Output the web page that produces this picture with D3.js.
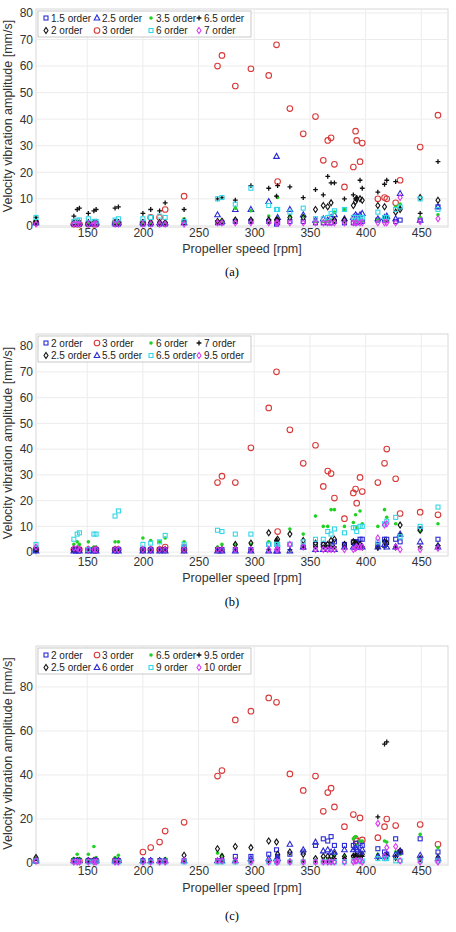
<!DOCTYPE html>
<html><head><meta charset="utf-8">
<script src="https://cdn.jsdelivr.net/npm/d3@7"></script>
<style>body{margin:0;background:#fff}svg{display:block}</style>
</head><body><div id="chart"></div>
<script>
// propeller speeds shared by all panels
const rpm = [104,138,141,143,151,156,158,175,178,200,207,215,220,237,267,271,283,297,313,320,321,332,344,355,362,366,369,372,381,389,391,392,395,397,411,417,419,427,431,449,465];
const xTicks = [150,200,250,300,350,400,450];

// panel (a)
const a15 = [1,0.5,0.5,0.5,0.5,0.5,0.5,0.5,0.5,0.5,0.5,0.5,0.5,1,1,1,1.5,1.5,1.5,0.5,1,1.5,1.5,1,1,1,1,1.5,1,1,1.5,1,1.5,1.5,2,2,2,1.5,2,2,7];
const a2 = [1.5,1,1,1,1,1,1,1,1,1,1,1,1,1.5,1.5,1.5,2,2,2,2,2,3,3,6,7.5,7,8.5,2,2,7.5,9,10,10,9.5,7.5,7,2.5,5,6,10.5,9.5];
const a25 = [1,1,1,1,1,1,1,1,1,1,1,1,1,1,4,1.5,6,6,9,26,3,6,4,2,2.5,2,3,4,2.5,3,4,3.5,4,4.5,2.5,3,3.5,2.5,12,2,7];
const a3 = [1,0.5,0.5,0.5,0.5,0.5,0.5,1,1,1,3,3,6,11,60,64,52.5,59,56.5,68,16.5,44,34.5,41,24.5,32,33,23,14.5,22,35.5,32,24,31,10,10.5,10,8.5,17,29.5,41.5];
const a35 = [2,1,1,1,1,1,1,1,1,1,1,1,1,2.5,1,2,6.5,5.5,3.5,11,10.5,3.5,3.5,1.5,1.5,1.5,2,5,6,2,1.5,1.5,2,2,2,2,2,7,8,3,4];
const a6 = [3,1.5,2,2,2.5,1.5,1.5,2,2.5,2.5,3,3.5,3,1.5,10,10.5,8,14,7.5,6,6,5,6.5,2.5,2.5,3,4.5,5.5,6,3,3,2,3,3,5,3,3,6,7,10,6];
const a65 = [3,3.5,6,6.5,4.5,5.5,6,6.5,7,4.5,6,5.5,8.5,6,10,10.5,9.5,15,14,11,15,14.5,10.5,13.5,11.5,18.5,16,16,10,11.5,10,10.5,17,14,12.5,15.5,17,16.5,6.5,4.5,24];
const a7 = [0.5,0.5,0.5,0.5,0.5,0.5,0.5,0.5,0.5,0.5,0.5,0.5,0.5,0.5,1,1,1,1,1,1,1,1,1,1,1,1,1,1,1,1,1,1,1,1,1,1,1,1,10.5,1.5,2.5];

// panel (b)
const b2 = [1,1,1,1,1,1,1,1,1,1,1,1,1,2,1,1,1,1,3,3,2,3,2,3,3,3,3,4,3,4,4,4,5,5,3,5,5,5,4,9,5];
const b25 = [1,1,1,1,1,1,1,1,1,1,1,1,1,1,1,1,3,3.5,7.5,4.5,5,7,4.5,3.5,3,3,4.5,5,3,4,3.5,3,3,2,2,4,3.5,2,10.5,8.5,2.5];
const b3 = [1,1,1,1,1,1,1,1,1,1,1,1,2,1,27,29.5,27,40.5,56,70,8,47.5,34.5,41.5,25.5,31.5,30.5,21,13,23,24.5,19,29,23.5,27,34.5,40,28.5,15,15.5,14.5];
const b55 = [0.5,0.5,0.5,0.5,0.5,0.5,0.5,0.5,0.5,0.5,0.5,0.5,0.5,0.5,0.5,0.5,0.5,0.5,0.5,0.5,0.5,0.5,2,1,1,1,1,1,2,2,2,2,2,2,2,3,2,2,7,4,2];
const b6 = [2,3,4,3,4,2,2,4,4,5.5,4.5,4,5.5,4,2,3,3,3,4,4,4,9,7,14,10,10,16.5,16.5,10,11.5,14.5,9.5,16,11,10,16.5,13.5,11,7,8,11];
const b65 = [3,5,7,7.5,1,7,7,14,16,3,3.5,4,6.5,3,8.5,8,7,7,3,3,3,3,4,5,5,8,7,9,7.5,9.5,9.5,8,10,10,4,11,12,13.5,6,10,17.5];
const b7 = [0.5,0.5,0.5,0.5,0.5,0.5,0.5,0.5,0.5,0.5,0.5,0.5,0.5,0.5,0.5,0.5,1,1,1,4.5,1,1,2,2,2,2,2,2,2,3,3,2,2,2,1.5,2,3,2,7,2,2.5];
const b95 = [2,1.5,1.5,1,1,1,1,1,1,1,1,1,1,1,1,1,1,1,1,1,1,3,2,1,1,1,1,1,1,1,1.5,2,2,2,5.5,10.5,11,2,1,1,1.5];

// panel (c)
const c2 = [1,1,1,1,1,1,1,1,1,1,1,1,1,1,1,1,3,3,4,6,3,4,5,8,11,10,12,8,8,8,9,7,9,8,6.5,5,4,11,5,11,5];
const c25 = [2.5,1,1,1,1,1,1,1,1,1,1,1,1,3.5,6.5,3,7.5,7,10,9.5,4,5,4,2,3,3,3,4,3,3,3,3,4,4,3,3,3,2.5,5.5,2,2.5];
const c3 = [1,1,1,1,1,1,1,1,1,5,7,9.5,14.5,18.5,39.5,42,65,69,75,73,null,40.5,33,39.5,23.5,32,34,25.5,16.5,22,11,10,20.5,10.5,11.5,16.5,20,17,5,17.5,8.5];
const c6 = [1,1,1,1,1,1,1,1,1,1,1,1,1,1,1,1,1,2,2,2,2,8.5,6,9.5,5.5,6,5,5,6,6,7,6,5,6,3,3,4,4,5,3.5,2];
const c65 = [2,2,4,2,4,7.5,2.5,2.5,3.5,1,1,1,2,1,4.5,3.5,1,1,1,1,1,1,1,1,2,2,2,3,3,11,12,8,10,10,4,10,9.5,5,4,13,7];
const c9 = [1,0.5,0.5,0.5,0.5,0.5,0.5,0.5,0.5,0.5,0.5,0.5,0.5,0.5,0.5,0.5,0.5,0.5,0.5,0.5,0.5,0.5,0.5,0.5,0.5,0.5,0.5,0.5,0.5,1,1,1,1,1,2,2,2,1,1,1,1];
const c95 = [2,1,1,1,1,1,1,1,1,1,1,1,1,1,1,1,1,1,1,1,1,1,1,1,1,1,1,2,2,3.5,4,3,3,3,21,54,55,3,5,1.5,2];
const c10 = [1,0.5,0.5,0.5,0.5,0.5,0.5,0.5,0.5,0.5,0.5,0.5,0.5,1,1,1,1,0.5,0.5,0.5,0.5,0.5,0.5,0.5,0.5,0.5,0.5,0.5,0.5,0.5,1,1,1,0.5,18,3,7,7.5,1,0.5,0.5];

const BLUE = "#2b2bd6", BLACK = "#111", RED = "#d83a3a", GREEN = "#22d022", CYAN = "#33d6e6", MAG = "#d83af0";
const panels = [
  { top: 9, bottom: 227, ymax: 81.5, ymin: -0.6, yt: d3.range(0, 81, 10), xl: 253, cap: "(a)", capY: 276,
    series: [
      { name: "1.5 order", v: a15, s: "square", c: BLUE }, { name: "2.5 order", v: a25, s: "triangle", c: BLUE },
      { name: "3.5 order", v: a35, s: "dot", c: GREEN }, { name: "6.5 order", v: a65, s: "plus", c: BLACK },
      { name: "2 order", v: a2, s: "diamond", c: BLACK }, { name: "3 order", v: a3, s: "circle", c: RED },
      { name: "6 order", v: a6, s: "square", c: CYAN }, { name: "7 order", v: a7, s: "diamond", c: MAG }] },
  { top: 334, bottom: 556, ymax: 84.7, ymin: -1.5, yt: d3.range(0, 81, 10), xl: 582, cap: "(b)", capY: 606,
    series: [
      { name: "2 order", v: b2, s: "square", c: BLUE }, { name: "3 order", v: b3, s: "circle", c: RED },
      { name: "6 order", v: b6, s: "dot", c: GREEN }, { name: "7 order", v: b7, s: "plus", c: BLACK },
      { name: "2.5 order", v: b25, s: "diamond", c: BLACK }, { name: "5.5 order", v: b55, s: "triangle", c: BLUE },
      { name: "6.5 order", v: b65, s: "square", c: CYAN }, { name: "9.5 order", v: b95, s: "diamond", c: MAG }] },
  { top: 646, bottom: 865, ymax: 98.6, ymin: -0.9, yt: d3.range(0, 81, 20), xl: 892, cap: "(c)", capY: 920,
    series: [
      { name: "2 order", v: c2, s: "square", c: BLUE }, { name: "3 order", v: c3, s: "circle", c: RED },
      { name: "6.5 order", v: c65, s: "dot", c: GREEN }, { name: "9.5 order", v: c95, s: "plus", c: BLACK },
      { name: "2.5 order", v: c25, s: "diamond", c: BLACK }, { name: "6 order", v: c6, s: "triangle", c: BLUE },
      { name: "9 order", v: c9, s: "square", c: CYAN }, { name: "10 order", v: c10, s: "diamond", c: MAG }] }
];

const svg = d3.select("#chart").append("svg").attr("width", 456).attr("height", 932)
  .style("font-family", "Arial, 'Liberation Sans', sans-serif");
const left = 36, right = 448;
const x = d3.scaleLinear().domain([104, 474]).range([left, right]);

function marker(g, s, c, cx, cy) {
  const st = el => el.attr("fill", "none").attr("stroke", c).attr("stroke-width", 1.1);
  if (s === "circle") st(g.append("circle").attr("cx", cx).attr("cy", cy).attr("r", 2.8));
  else if (s === "dot") g.append("circle").attr("cx", cx).attr("cy", cy).attr("r", 1.8).attr("fill", c);
  else if (s === "plus") g.append("path").attr("d", `M${cx-2.4},${cy}h4.8M${cx},${cy-2.4}v4.8`).attr("stroke", c).attr("stroke-width", 1.3);
  else if (s === "square") st(g.append("rect").attr("x", cx - 2).attr("y", cy - 2).attr("width", 4).attr("height", 4));
  else if (s === "triangle") st(g.append("path").attr("d", `M${cx},${cy-3}L${cx+2.8},${cy+2}L${cx-2.8},${cy+2}Z`));
  else st(g.append("path").attr("d", `M${cx},${cy-3}L${cx+2},${cy}L${cx},${cy+3}L${cx-2},${cy}Z`));
}

panels.forEach(p => {
  const y = d3.scaleLinear().domain([p.ymin, p.ymax]).range([p.bottom, p.top]);
  const g = svg.append("g");
  g.append("rect").attr("x", left).attr("y", p.top).attr("width", right - left).attr("height", p.bottom - p.top)
    .attr("fill", "#fff").attr("stroke", "#d8d8d8");
  g.append("g").selectAll("line").data(xTicks).join("line")
    .attr("x1", d => x(d)).attr("x2", d => x(d)).attr("y1", p.top).attr("y2", p.bottom).attr("stroke", "#ececec");
  g.append("g").selectAll("line").data(p.yt).join("line")
    .attr("x1", left).attr("x2", right).attr("y1", d => y(d)).attr("y2", d => y(d)).attr("stroke", "#ececec");

  const xa = g.append("g").attr("transform", `translate(0,${p.bottom})`)
    .call(d3.axisBottom(x).tickValues(xTicks).tickSize(0).tickPadding(1));
  const ya = g.append("g").attr("transform", `translate(${left},0)`)
    .call(d3.axisLeft(y).tickValues(p.yt).tickSize(0).tickPadding(3));
  [xa, ya].forEach(a => { a.select(".domain").remove(); a.selectAll("text").attr("fill", "#333").style("font-size", "12px"); });

  g.append("text").attr("x", (left + right) / 2).attr("y", p.xl).attr("text-anchor", "middle")
    .attr("fill", "#333").style("font-size", "12.5px").text("Propeller speed [rpm]");
  g.append("text").attr("transform", `translate(12,${(p.top + p.bottom) / 2 - 2}) rotate(-90)`).attr("text-anchor", "middle")
    .attr("fill", "#333").style("font-size", "12.5px").text("Velocity vibration amplitude [mm/s]");
  g.append("text").attr("x", 232).attr("y", p.capY).attr("text-anchor", "middle")
    .style("font-family", "'Liberation Serif', 'Times New Roman', serif").style("font-size", "12.5px").text(p.cap);

  // red circles underneath, smaller markers on top
  p.series.slice().sort((s1, s2) => (s2.s === "circle") - (s1.s === "circle")).forEach(s => {
    const mg = g.append("g");
    s.v.forEach((v, i) => { if (v != null) marker(mg, s.s, s.c, x(rpm[i]), y(v)); });
  });

  // legend
  const lg = g.append("g");
  lg.append("rect").attr("x", 38).attr("y", p.top + 2).attr("width", 213).attr("height", 26)
    .attr("fill", "#fff").attr("stroke", "#bbb").attr("stroke-width", 0.8);
  const colX = [46, 97, 151, 199];
  p.series.forEach((s, i) => {
    const cx = colX[i % 4], cy = p.top + 9 + Math.floor(i / 4) * 12.5;
    marker(lg, s.s, s.c, cx, cy);
    lg.append("text").attr("x", cx + 5).attr("y", cy + 3.7).attr("fill", "#222").style("font-size", "10px").text(s.name);
  });
});
</script></body></html>
